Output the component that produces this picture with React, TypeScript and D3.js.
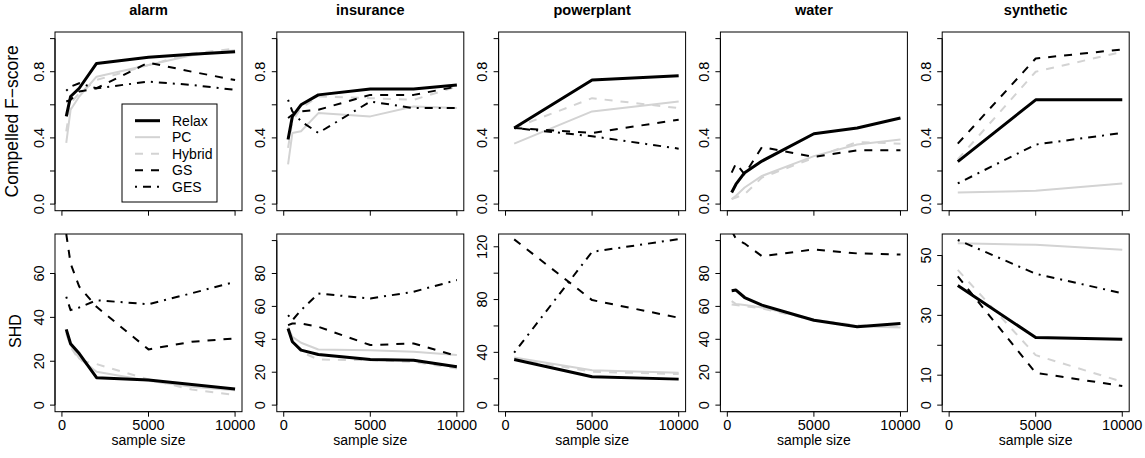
import React from "react";
import * as d3 from "d3";

const W = 1145;
const H = 458;

const datasets = ["alarm", "insurance", "powerplant", "water", "synthetic"];
const methods = ["Relax", "PC", "Hybrid", "GS", "GES"];

const sizesAlarm = [250, 500, 1000, 2000, 5000, 7500, 10000];
const sizesInsurance = [250, 500, 1000, 2000, 5000, 7500, 10000];
const sizesPowerplant = [500, 5000, 10000];
const sizesWater = [250, 500, 1000, 2000, 5000, 7500, 10000];
const sizesSynthetic = [500, 5000, 10000];

// Compelled F-score, rows in method order: Relax, PC, Hybrid, GS, GES
const fAlarm = [
  [0.53, 0.65, 0.7, 0.85, 0.887, 0.905, 0.92],
  [0.37, 0.57, 0.65, 0.77, 0.84, 0.9, 0.93],
  [0.44, 0.61, 0.67, 0.75, 0.84, 0.91, 0.94],
  [0.62, 0.63, 0.68, 0.7, 0.855, 0.8, 0.75],
  [0.685, 0.71, 0.73, 0.7, 0.74, 0.72, 0.69],
];
const fInsurance = [
  [0.39, 0.53, 0.6, 0.66, 0.695, 0.695, 0.72],
  [0.24, 0.43, 0.44, 0.55, 0.53, 0.59, 0.58],
  [0.34, 0.5, 0.58, 0.65, 0.64, 0.63, 0.71],
  [0.52, 0.54, 0.56, 0.57, 0.66, 0.66, 0.71],
  [0.63, 0.56, 0.5, 0.43, 0.62, 0.58, 0.58],
];
const fPowerplant = [
  [0.46, 0.75, 0.775],
  [0.365, 0.56, 0.62],
  [0.46, 0.64, 0.58],
  [0.46, 0.43, 0.51],
  [0.46, 0.41, 0.335],
];
const fWater = [
  [0.07, 0.12, 0.19, 0.26, 0.425, 0.46, 0.52],
  [0.03, 0.05, 0.1, 0.17, 0.29, 0.36, 0.39],
  [0.03, 0.04, 0.06, 0.16, 0.28, 0.375, 0.365],
  [0.19, 0.245, 0.18, 0.345, 0.285, 0.325, 0.325],
  null,
];
const fSynthetic = [
  [0.257, 0.63, 0.63],
  [0.07, 0.08, 0.125],
  [0.27, 0.8, 0.92],
  [0.365, 0.88, 0.935],
  [0.125, 0.36, 0.43],
];

// SHD
const shdAlarm = [
  [34.5, 28, 23.5, 12.5, 11.4, 9.4, 7.3],
  [33.4, 27.3, 21.3, 15.2, 11.1, 8.4, 6.8],
  [32.7, 26.6, 20.5, 18.7, 11.7, 7.1, 4.6],
  [78, 64.6, 54, 44.8, 25.4, 28.9, 30.4],
  [49.4, 43.3, 44.5, 47.8, 46, 51, 56.2],
];
const shdInsurance = [
  [46.6, 38.5, 33.4, 30.8, 27.7, 27.3, 23.3],
  [47.6, 41.5, 37.9, 33.8, 33.4, 32.4, 30.4],
  [45.6, 39.5, 32.4, 27.7, 27.3, 26.3, 22.3],
  [48.6, 49.6, 49.6, 47.6, 36.5, 37.5, 29.8],
  [54.7, 51.6, 57.7, 67.8, 64.8, 68.9, 76],
];
const shdPowerplant = [
  [34.6, 21.5, 19.7],
  [36.1, 26.5, 24.5],
  [35.4, 25.3, 23.5],
  [125.6, 79.6, 66.2],
  [39.7, 116.2, 125.8],
];
const shdWater = [
  [69.5, 69.9, 65.4, 60.8, 51.6, 47.6, 49.6],
  [63.2, 61.4, 60.8, 59.3, 52, 48, 47.2],
  [61.2, 60.8, 60.2, 58.7, 51.6, 48.6, 47.6],
  [106, 101, 98.2, 90.5, 94.6, 92.2, 91.5],
  null,
];
const shdSynthetic = [
  [40, 22.6, 22],
  [54.1, 53.6, 51.9],
  [45.2, 16.7, 7.8],
  [43, 10.8, 6.4],
  [55.2, 43.9, 37.4],
];

const sizes = [sizesAlarm, sizesInsurance, sizesPowerplant, sizesWater, sizesSynthetic];
const fScores = [fAlarm, fInsurance, fPowerplant, fWater, fSynthetic];
const shds = [shdAlarm, shdInsurance, shdPowerplant, shdWater, shdSynthetic];

// axis limits and ticks
const xLimits = [0, 10000];
const xTicks = [0, 5000, 10000];
const fLimits = [0, 1];
const fTicks = [0, 0.2, 0.4, 0.6, 0.8, 1.0];
const fTickLabels = [0, 0.4, 0.8];
const shdMax = [75, 100, 124.7, 100, 55];
const shdTicks = [
  [0, 20, 40, 60],
  [0, 20, 40, 60, 80, 100],
  [0, 20, 40, 60, 80, 100, 120],
  [0, 20, 40, 60, 80, 100],
  [0, 10, 20, 30, 40, 50],
];
const shdTickLabels = [
  [0, 20, 40, 60],
  [0, 20, 40, 60, 80],
  [0, 40, 80, 120],
  [0, 20, 40, 60, 80],
  [0, 10, 30, 50],
];

const styles: Record<string, { color: string; width: number; dash: string | null }> = {
  Relax: { color: "#000000", width: 3, dash: null },
  PC: { color: "#d3d3d3", width: 2, dash: null },
  Hybrid: { color: "#d3d3d3", width: 2, dash: "8,8" },
  GS: { color: "#000000", width: 2, dash: "8,8" },
  GES: { color: "#000000", width: 2, dash: "2,6,8,6" },
};
const drawOrder = ["PC", "Hybrid", "GS", "GES", "Relax"];

const FONT = "'Liberation Sans', Arial, Helvetica, sans-serif";
const boxW = 187;
const colStep = 221.8;
const col0 = 55;
const rows = [
  { top: 32, bottom: 210.7 },
  { top: 234, bottom: 411.7 },
];

function pad(lim: number[]) {
  const r = lim[1] - lim[0];
  return [lim[0] - 0.04 * r, lim[1] + 0.04 * r];
}

function Panel({ ci, ri }: { ci: number; ri: number }) {
  const left = col0 + ci * colStep;
  const right = left + boxW;
  const { top, bottom } = rows[ri];
  const x = d3.scaleLinear().domain(pad(xLimits)).range([left, right]);
  const yLim = ri === 0 ? fLimits : [0, shdMax[ci]];
  const y = d3.scaleLinear().domain(pad(yLim)).range([bottom, top]);
  const data = ri === 0 ? fScores[ci] : shds[ci];
  const xs = sizes[ci];
  const ticks = ri === 0 ? fTicks : shdTicks[ci];
  const tickLabels = ri === 0 ? fTickLabels : shdTickLabels[ci];
  const fmt = (v: number) => (ri === 0 ? v.toFixed(1) : String(v));
  const clipId = `clip-${ri}-${ci}`;
  const line = d3
    .line<number>()
    .x((_, i) => x(xs[i]))
    .y((d) => y(d));
  const labelX = left - 11.5;

  return (
    <g>
      <defs>
        <clipPath id={clipId}>
          <rect x={left} y={top} width={right - left} height={bottom - top} />
        </clipPath>
      </defs>
      <g clipPath={`url(#${clipId})`}>
        {drawOrder.map((m) => {
          const k = methods.indexOf(m);
          const vals = data[k];
          if (!vals) return null;
          const s = styles[m];
          return (
            <path
              key={m}
              d={line(vals) || ""}
              fill="none"
              stroke={s.color}
              strokeWidth={s.width}
              strokeDasharray={s.dash || undefined}
              strokeLinejoin="round"
            />
          );
        })}
      </g>
      <rect
        x={left}
        y={top}
        width={right - left}
        height={bottom - top}
        fill="none"
        stroke="#000"
        strokeWidth={1}
      />
      {/* y axis */}
      <line x1={left} x2={left} y1={y(ticks[0])} y2={y(ticks[ticks.length - 1])} stroke="#000" />
      {ticks.map((t) => (
        <line key={t} x1={left - 5} x2={left} y1={y(t)} y2={y(t)} stroke="#000" />
      ))}
      {tickLabels.map((t) => (
        <text
          key={t}
          transform={`translate(${labelX},${y(t)}) rotate(-90)`}
          textAnchor="middle"
          fontSize={14.5}
          fontFamily={FONT}
        >
          {fmt(t)}
        </text>
      ))}
      {/* x axis */}
      <line x1={x(xTicks[0])} x2={x(xTicks[xTicks.length - 1])} y1={bottom} y2={bottom} stroke="#000" />
      {xTicks.map((t) => (
        <line key={t} x1={x(t)} x2={x(t)} y1={bottom} y2={bottom + 5} stroke="#000" />
      ))}
      {ri === 1 &&
        xTicks.map((t) => (
          <text key={t} x={x(t)} y={429.5} textAnchor="middle" fontSize={14.5} fontFamily={FONT}>
            {t}
          </text>
        ))}
      {ri === 1 && (
        <text x={(left + right) / 2} y={445} textAnchor="middle" fontSize={14} fontFamily={FONT}>
          sample size
        </text>
      )}
      {ri === 0 && (
        <text
          x={(left + right) / 2}
          y={14.5}
          textAnchor="middle"
          fontSize={14.5}
          fontWeight="bold"
          fontFamily={FONT}
        >
          {datasets[ci]}
        </text>
      )}
    </g>
  );
}

function Legend() {
  const lx = 122;
  const ly = 104;
  const lw = 95;
  const lh = 98;
  const rowY = (i: number) => ly + 16.7 + i * 16.5;
  return (
    <g>
      <rect x={lx} y={ly} width={lw} height={lh} fill="#fff" stroke="#000" />
      {methods.map((m, i) => {
        const s = styles[m];
        return (
          <g key={m}>
            <line
              x1={lx + 13}
              x2={lx + 38}
              y1={rowY(i)}
              y2={rowY(i)}
              stroke={s.color}
              strokeWidth={s.width}
              strokeDasharray={s.dash || undefined}
            />
            <text x={lx + 50} y={rowY(i) + 5} fontSize={14} fontFamily={FONT}>
              {m}
            </text>
          </g>
        );
      })}
    </g>
  );
}

export default function App() {
  return (
    <svg width={W} height={H} style={{ display: "block", position: "absolute", left: 0, top: 0, background: "#fff" }}>
      <rect width={W} height={H} fill="#fff" />
      {[0, 1].map((ri) => datasets.map((_, ci) => <Panel key={`${ri}-${ci}`} ci={ci} ri={ri} />))}
      <Legend />
      <text transform={`translate(17.5,121.3) rotate(-90)`} textAnchor="middle" fontSize={17.5} fontFamily={FONT}>
        Compelled F−score
      </text>
      <text transform={`translate(21,331) rotate(-90)`} textAnchor="middle" fontSize={16} fontFamily={FONT}>
        SHD
      </text>
    </svg>
  );
}
